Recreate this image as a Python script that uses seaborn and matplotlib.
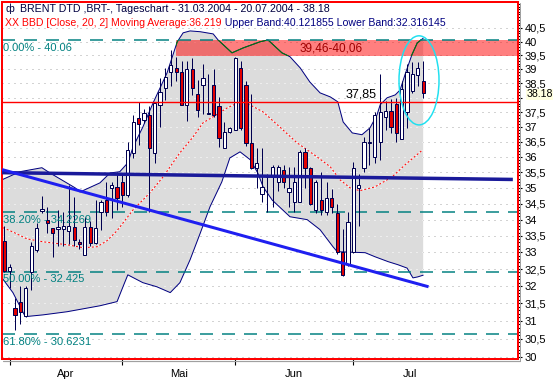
import numpy as np
import pandas as pd
import matplotlib
matplotlib.use("Agg")
import matplotlib.pyplot as plt
import seaborn as sns
from matplotlib.patches import Ellipse, Rectangle
from matplotlib.lines import Line2D
from matplotlib.ticker import FixedLocator, FuncFormatter, NullFormatter
from matplotlib.transforms import IdentityTransform

# ---------------- data ----------------
day_index = list(range(79))
opens = [33.35, 32.45, 31.37, 31.54, 31.15, 32.42, 33.07, 34.28, 34.00, 33.73,
         33.70, 33.70, 33.65, 33.78, 33.30, 32.92, 33.78, 33.28, 34.25, 34.62,
         35.00, 35.03, 35.20, 34.78, 36.13, 37.30, 37.25, 37.40, 36.13, 37.75,
         38.35, 38.90, 39.05, 38.92, 37.75, 39.00, 38.13, 38.45, 37.45, 38.45,
         37.70, 36.30, 36.83, 36.90, 39.05, 38.45, 36.45, 35.65, 34.80, 35.40,
         35.40, 35.20, 35.58, 34.88, 34.55, 34.55, 36.15, 35.65, 34.30, 34.60,
         34.25, 34.68, 34.20, 33.00, 32.65, 33.00, 35.00, 35.65, 36.45, 36.00,
         36.50, 37.35, 37.55, 37.80, 36.60, 37.50, 38.25, 38.80, 38.60]
highs = [33.80, 32.65, 31.65, 32.00, 32.00, 33.30, 33.90, 34.75, 34.40, 33.75,
         34.30, 34.25, 35.10, 34.70, 33.40, 34.08, 33.95, 34.60, 34.60, 35.20,
         35.20, 35.50, 35.42, 36.50, 37.40, 37.85, 37.60, 37.70, 37.85, 38.70,
         39.05, 39.70, 39.45, 39.30, 39.30, 39.40, 38.62, 39.20, 38.85, 39.00,
         38.03, 37.17, 37.00, 39.45, 39.30, 38.60, 38.13, 36.30, 36.30, 35.45,
         35.75, 35.75, 35.75, 35.67, 35.67, 36.22, 36.30, 35.67, 35.25, 35.50,
         35.20, 34.95, 34.50, 33.70, 34.25, 35.85, 35.45, 36.65, 36.95, 37.50,
         38.85, 37.90, 37.95, 38.00, 38.60, 39.20, 39.25, 39.25, 39.30]
lows = [32.40, 31.95, 30.75, 30.90, 31.10, 31.90, 33.02, 34.20, 33.60, 32.85,
        33.20, 33.20, 33.25, 33.20, 33.10, 32.92, 33.20, 33.25, 33.68, 34.12,
        34.05, 34.30, 34.40, 34.72, 35.97, 36.40, 37.15, 34.25, 35.80, 37.00,
        37.93, 38.40, 38.60, 37.75, 37.20, 38.10, 37.35, 37.45, 37.45, 37.35,
        36.33, 36.30, 36.80, 36.90, 36.90, 36.35, 35.60, 35.00, 34.55, 34.25,
        34.40, 34.90, 35.00, 34.38, 34.25, 34.55, 35.00, 34.45, 34.20, 34.15,
        34.15, 34.20, 32.95, 32.30, 32.60, 32.97, 33.80, 35.50, 35.75, 35.80,
        35.90, 36.90, 36.80, 36.50, 36.60, 36.95, 38.15, 38.40, 38.00]
closes = [32.43, 32.55, 31.17, 31.25, 31.95, 33.20, 33.74, 34.32, 33.90, 33.60,
          33.78, 33.80, 33.80, 33.38, 33.25, 33.78, 33.27, 33.75, 34.55, 34.25,
          35.10, 34.68, 34.78, 36.23, 37.17, 37.10, 37.48, 36.30, 37.82, 38.20,
          38.72, 39.15, 38.92, 37.75, 39.00, 38.33, 37.57, 38.68, 37.48, 37.41,
          36.63, 36.83, 36.95, 39.40, 36.95, 36.45, 35.65, 35.80, 35.03, 35.35,
          35.67, 35.67, 35.20, 35.00, 35.20, 36.15, 35.65, 34.50, 35.20, 34.30,
          34.68, 34.38, 33.00, 32.33, 33.93, 35.65, 35.10, 36.50, 36.50, 37.40,
          37.50, 37.55, 37.00, 36.80, 38.30, 38.92, 38.85, 39.05, 38.18]

upper_idx = [-0.43, 2.9, 7.0, 8.5, 13.2, 14.1, 17.8, 19.7, 21.5, 23.0, 24.0, 25.8,
             27.7, 30.3, 32.2, 33.3, 34.6, 36.5, 38.9, 39.8, 42.4, 44.5, 47.6, 49.1,
             51.7, 53.2, 55.1, 56.9, 58.8, 60.7, 62.1, 63.1, 64.8, 66.6, 68.1, 69.4,
             70.0, 71.3, 72.8, 73.7, 74.6, 75.9, 76.9, 78.0]
upper_val = [35.26, 35.52, 35.65, 35.48, 35.00, 34.87, 35.16, 35.48, 35.52, 35.81, 36.34, 37.00,
             37.82, 38.87, 39.99, 40.32, 40.39, 40.36, 40.28, 40.06, 39.59, 39.77, 39.99, 40.06,
             39.59, 39.45, 39.05, 38.55, 38.17, 38.03, 37.86, 37.17, 36.80, 36.74, 36.97, 37.41,
             37.76, 38.00, 38.10, 38.27, 38.80, 39.52, 39.95, 40.12]
lower_idx = [-0.43, 1.6, 3.9, 7.2, 11.7, 17.8, 21.0, 22.1, 23.0, 25.8, 28.4, 30.9,
             32.7, 34.6, 36.5, 38.3, 40.5, 42.0, 43.9, 45.8, 47.2, 48.2, 49.9, 53.2,
             56.4, 58.8, 61.2, 62.0, 67.2, 69.0, 71.5, 73.3, 75.0, 76.1, 77.0, 78.0]
lower_val = [32.24, 31.81, 31.12, 31.17, 31.26, 31.43, 31.55, 31.98, 32.33, 32.10, 31.98, 31.81,
             32.10, 32.78, 33.59, 34.40, 35.19, 35.97, 36.17, 35.91, 35.48, 35.03, 34.61, 34.09,
             34.00, 33.69, 33.17, 33.02, 32.99, 32.87, 32.72, 32.63, 32.53, 32.24, 32.27, 32.32]
ma_idx = [-0.24, 1.6, 4.2, 7.2, 11.7, 14.7, 17.3, 19.1, 21.0, 24.0, 27.1, 29.6,
          32.7, 35.0, 37.0, 39.2, 41.5, 43.9, 45.8, 48.2, 51.3, 54.5, 58.2, 60.7,
          62.5, 64.4, 66.2, 69.0, 72.2, 74.6, 77.8]
ma_val = [33.75, 33.62, 33.41, 33.32, 33.23, 33.14, 33.17, 33.35, 33.66, 34.31, 34.84, 35.36,
          36.14, 36.63, 37.14, 37.38, 37.65, 37.86, 37.75, 37.51, 37.00, 36.47, 36.01, 35.68,
          35.26, 35.00, 34.91, 35.03, 35.35, 35.74, 36.22]

fib_levels = [40.06, 34.2269, 32.425, 30.6231]
fib_labels = ["0.00% - 40.06", "38.20% - 34.2269", "50.00% - 32.425", "61.80% - 30.6231"]
zone_low, zone_high = 39.46, 40.06
zone_start = 32
zone_label = "39,46-40,06"
hline_level = 37.85
hline_label = "37,85"
trend_blue_x, trend_blue_y = [-0.43, 79.0], [35.59, 31.98]
trend_navy_x, trend_navy_y = [-0.43, 94.7], [35.49, 35.27]
ellipse_days = (73.5, 80.95)
ellipse_prices = (37.07, 40.21)
month_ticks = [1, 22, 43, 65]
month_label_pos = [11.5, 32.5, 54.0, 75.5]
month_labels = ["Apr", "Mai", "Jun", "Jul"]
y_ticks = [30 + 0.5 * k for k in range(22)]
last_close = 38.18
title1 = "BRENT DTD ,BRT-, Tageschart - 31.03.2004 - 20.07.2004 - 38.18"
title2a = "XX BBD [Close, 20, 2] Moving Average:36.219"
title2b = " Upper Band:40.121855 Lower Band:32.316145"

# ---------------- style ----------------
sns.set_style("white")
plt.rcParams['font.family'] = ['Liberation Sans', 'DejaVu Sans']
plt.rcParams['lines.scale_dashes'] = False
PX = 0.72  # points per pixel at 100 dpi

W, H = 555, 381
fig = plt.figure(figsize=(W / 100, H / 100), dpi=100)
ax_l, ax_r, ax_t, ax_b = 2, 518, 2, 359
ax = fig.add_axes([ax_l / W, 1 - ax_b / H, (ax_r - ax_l) / W, (ax_b - ax_t) / H])
ax.set_yscale('log')
ax.set_xlim(-0.43, 95.66)
ax.set_ylim(29.94, 41.47)
ax.set_facecolor('white')

navy = '#000080'
outline = '#000050'

# Bollinger fill
poly_x = list(upper_idx) + list(lower_idx[::-1])
poly_y = list(upper_val) + list(lower_val[::-1])
band_poly = ax.fill(poly_x, poly_y, color='#dcdcdc', lw=0, zorder=1)[0]

# grid lines (gray on white, white inside band)
for lv in y_ticks:
    ax.axhline(lv, color='#a8a8a8', lw=1 * PX, ls=(0, (1 * PX, 5 * PX)), zorder=0.5)
    g = ax.axhline(lv, color='white', lw=1 * PX, ls=(0, (1 * PX, 5 * PX)), zorder=1.2)
    g.set_clip_path(band_poly)

# resistance zone
zone = Rectangle((zone_start, zone_low), 200, zone_high - zone_low,
                 facecolor='red', alpha=0.5, lw=0, zorder=1.5)
ax.add_patch(zone)
ax.text(55.0, np.sqrt(zone_low * zone_high), zone_label, color='#a00000',
        fontsize=8.5, va='center', ha='left', zorder=6)

# bands and moving average
sns.lineplot(x=upper_idx, y=upper_val, ax=ax, color=navy, lw=1 * PX,
             estimator=None, sort=False, legend=False, zorder=2)
green = ax.plot(upper_idx, upper_val, color='#008000', lw=1 * PX, zorder=2.1)[0]
green.set_clip_path(zone)
sns.lineplot(x=lower_idx, y=lower_val, ax=ax, color=navy, lw=1 * PX,
             estimator=None, sort=False, legend=False, zorder=2)
ax.plot(ma_idx, ma_val, color='white', lw=1 * PX, zorder=2)
sns.lineplot(x=ma_idx, y=ma_val, ax=ax, color='#ff0000', lw=1 * PX,
             ls=(0, (2 * PX, 2 * PX)), estimator=None, sort=False, legend=False, zorder=2.2)

# Fibonacci levels
for lv, lab in zip(fib_levels, fib_labels):
    ax.axhline(lv, color='#008080', lw=1.5 * PX, ls=(0, (13 * PX, 9 * PX)), zorder=2.5)
    ax.annotate(lab, xy=(0, lv), xycoords=('axes fraction', 'data'),
                xytext=(1, -2), textcoords='offset points', va='top', ha='left',
                color='#008080', fontsize=8, zorder=6)

# candles
df = pd.DataFrame(dict(day=day_index, open=opens, high=highs, low=lows, close=closes))
up = df['close'] >= df['open']
ax.vlines(df['day'], df['low'], df['high'], color=outline, lw=1 * PX, zorder=3)
body_bottom = np.minimum(df['open'], df['close'])
body_h = np.maximum((df['close'] - df['open']).abs(), 0.03)
ax.bar(df['day'], body_h, bottom=body_bottom, width=0.6,
       color=np.where(up, 'white', '#e00000'), edgecolor=outline, linewidth=1 * PX, zorder=3.2)

# trend lines & horizontal line
ax.plot(trend_navy_x, trend_navy_y, color='#1a1a9a', lw=3.5 * PX, zorder=4, solid_capstyle='butt')
ax.plot(trend_blue_x, trend_blue_y, color='#1f1ff0', lw=3 * PX, zorder=4, solid_capstyle='butt')
ax.axhline(hline_level, color='#ff0000', lw=1.4 * PX, zorder=4.2)
ax.annotate(hline_label, xy=(66.4, hline_level), xytext=(0, 1.5), textcoords='offset points',
            ha='center', va='bottom', fontsize=9, color='black', zorder=6)

# ellipse highlight
(xa, ya) = ax.transData.transform((ellipse_days[0], ellipse_prices[0]))
(xb, yb) = ax.transData.transform((ellipse_days[1], ellipse_prices[1]))
ell = Ellipse(((xa + xb) / 2, (ya + yb) / 2), xb - xa, yb - ya, fill=False,
              edgecolor='#20e0f0', lw=1.5 * PX, transform=IdentityTransform(), zorder=5)
ax.add_patch(ell)

# axes styling
for s in ax.spines.values():
    s.set_color('#ff0000')
    s.set_linewidth(2 * PX)


def ytick_fmt(v, p):
    if abs(v - round(last_close * 2) / 2) < 1e-9:
        return ''  # hidden under the last-price box
    return f"{v:g}".replace('.', ',')


ax.yaxis.tick_right()
ax.yaxis.set_major_locator(FixedLocator(y_ticks))
ax.yaxis.set_major_formatter(FuncFormatter(ytick_fmt))
ax.yaxis.set_minor_locator(FixedLocator([30 + 0.1 * k for k in range(116)]))
ax.yaxis.set_minor_formatter(NullFormatter())
ax.tick_params(axis='y', which='major', length=3, width=0.8, color='black',
               pad=2, labelsize=8, labelcolor='black')
ax.tick_params(axis='y', which='minor', length=1.2, width=0.8, color='black')
ax.xaxis.set_major_locator(FixedLocator(month_ticks))
ax.xaxis.set_major_formatter(NullFormatter())
ax.xaxis.set_minor_locator(FixedLocator(month_label_pos))
ax.xaxis.set_minor_formatter(FuncFormatter(lambda v, p: month_labels[p] if p < len(month_labels) else ''))
ax.tick_params(axis='x', which='major', length=4, width=0.8, color='black', bottom=True)
ax.tick_params(axis='x', which='minor', length=0, pad=7, labelsize=8, labelcolor='black')
ax.set_xlabel('')
ax.set_ylabel('')

# last price marker
ax.annotate(f"{last_close:.2f}", xy=(1, last_close), xycoords=('axes fraction', 'data'),
            xytext=(6, -1.2), textcoords='offset points', va='center', ha='left',
            fontsize=7.6, color='black', annotation_clip=False, zorder=10,
            bbox=dict(boxstyle='square,pad=0.05', facecolor='#ffffe0', edgecolor='none'))

# 3D shadow of the frame
def fx(px):
    return px / W


def fy(py):
    return 1 - py / H


fig.add_artist(Line2D([fx(3), fx(520)], [fy(360.8), fy(360.8)], color='#a0a0a0', lw=1.2 * PX))
fig.add_artist(Line2D([fx(519.6), fx(519.6)], [fy(3), fy(361)], color='#a0a0a0', lw=1 * PX))

# header texts
fig.text(fx(5), fy(9), "ф", color='#000040', fontsize=7.7, va='center', ha='left')
fig.text(fx(20), fy(9), title1, color='#000040', fontsize=7.7, va='center', ha='left')
t2 = fig.text(fx(5), fy(23), title2a, color='#ff0000', fontsize=7.6, va='center', ha='left')
ax.annotate(title2b, xy=(1, 0.5), xycoords=t2, va='center', ha='left',
            color=navy, fontsize=7.6, annotation_clip=False)

fig.savefig('out.png', dpi=100)
